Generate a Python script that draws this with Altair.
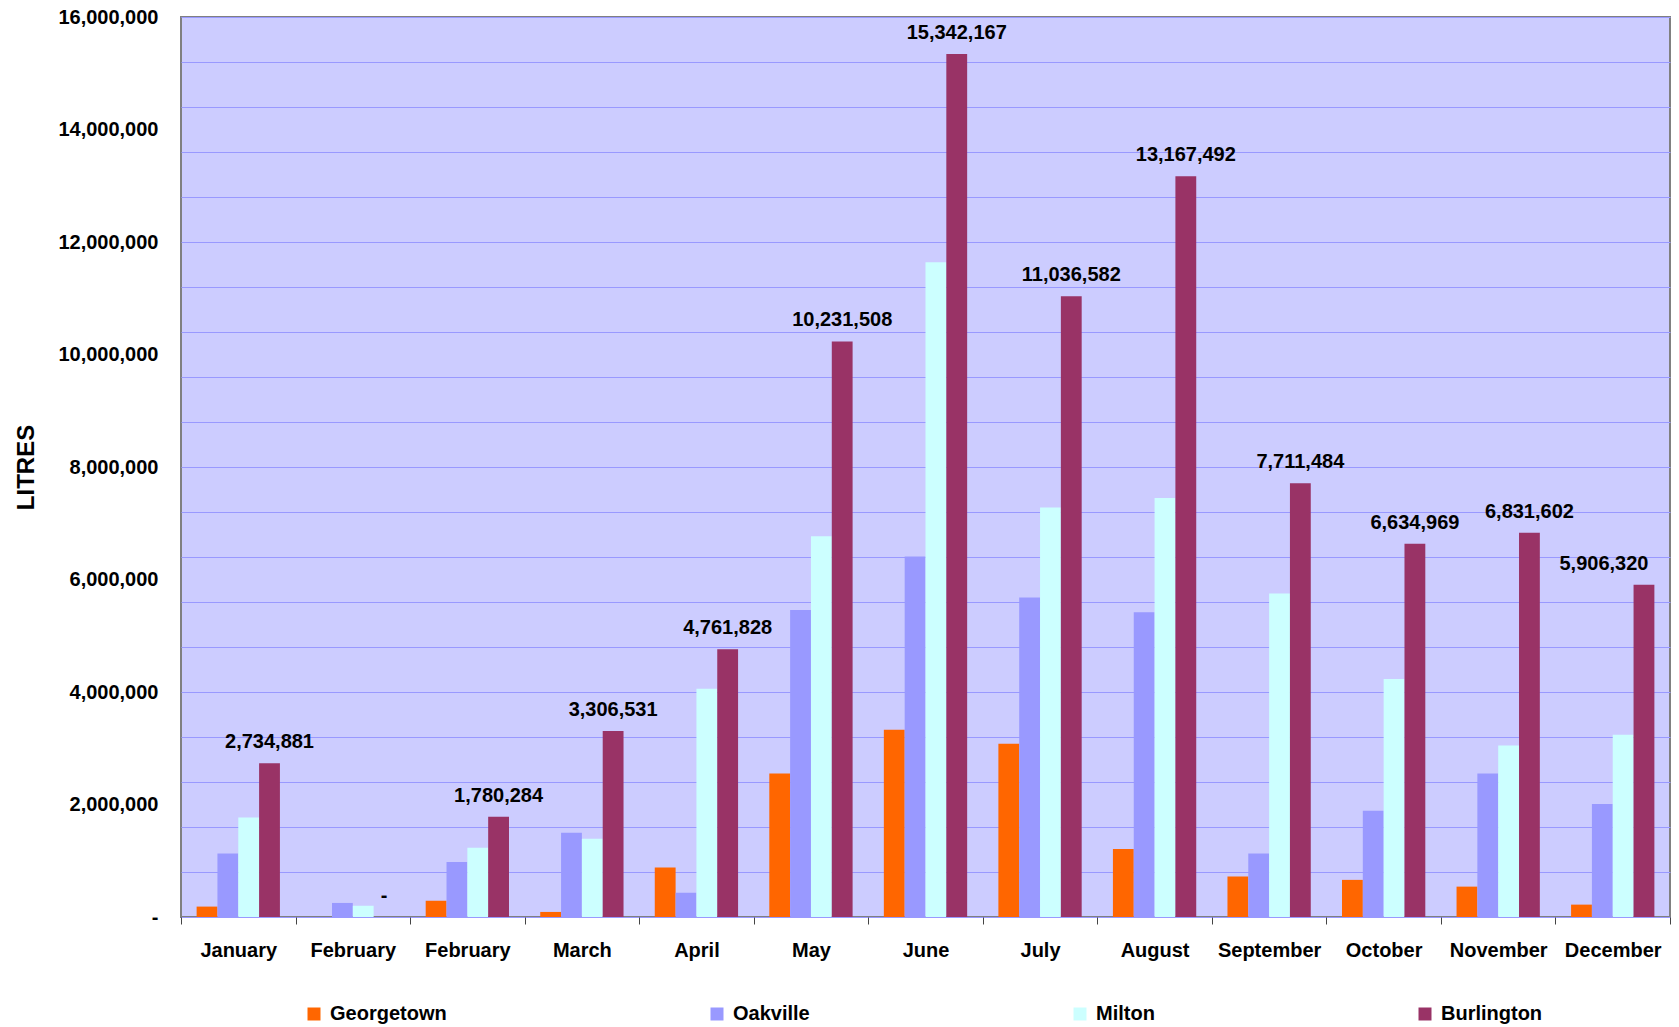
import altair as alt
import pandas as pd

months = ["January", "February", "February", "March", "April", "May", "June",
          "July", "August", "September", "October", "November", "December"]
series = ["Georgetown", "Oakville", "Milton", "Burlington"]
colors = ["#FF6600", "#9999FF", "#CCFFFF", "#993366"]

georgetown = [185000, 0, 290000, 90000, 880000, 2550000, 3330000, 3080000,
              1210000, 720000, 660000, 540000, 220000]
oakville = [1130000, 250000, 980000, 1500000, 430000, 5460000, 6410000, 5680000,
            5420000, 1130000, 1890000, 2550000, 2010000]
milton = [1770000, 200000, 1230000, 1390000, 4060000, 6770000, 11640000, 7280000,
          7450000, 5750000, 4230000, 3050000, 3240000]
burlington = [2734881, 0, 1780284, 3306531, 4761828, 10231508, 15342167, 11036582,
              13167492, 7711484, 6634969, 6831602, 5906320]

grid_ticks = list(range(0, 16000001, 800000))
label_ticks = list(range(0, 16000001, 2000000))
y_ticks = sorted(set(grid_ticks) | set(label_ticks))

rows = []
for name, vals in zip(series, [georgetown, oakville, milton, burlington]):
    for i, v in enumerate(vals):
        rows.append({"idx": i, "series": name, "value": v})
df = pd.DataFrame(rows)

FONT = "Liberation Sans"
label_array = "[" + ",".join("'" + m + "'" for m in months) + "]"

x_enc = alt.X("idx:O", title=None,
              scale=alt.Scale(paddingInner=0, paddingOuter=0),
              axis=alt.Axis(labelExpr=label_array + "[datum.value]",
                            labelAngle=0, labelFontSize=20, labelFontWeight="bold",
                            labelFont=FONT, labelColor="#000000", labelPadding=16,
                            labelOverlap=False,
                            tickBand="extent", tickSize=7, tickColor="#444444",
                            domain=False, grid=False))
y_enc = alt.Y("value:Q",
              scale=alt.Scale(domain=[0, 16000000], nice=False),
              axis=alt.Axis(values=y_ticks, tickCount=200,
                            labelExpr="datum.value % 2000000 == 0 ? (datum.value == 0 ? '-' : format(datum.value, ',')) : ''",
                            labelFontSize=20, labelFontWeight="bold", labelFont=FONT,
                            labelColor="#000000", labelPadding=23, ticks=False,
                            labelOverlap=False,
                            domain=False, grid=True, gridColor="#9999FF", gridWidth=1,
                            gridOpacity={"condition": {"test": "datum.value % 800000 == 0", "value": 1}, "value": 0},
                            title="LITRES", titleFontSize=24, titleFontWeight="bold",
                            titleFont=FONT, titleColor="#000000", titleAngle=270,
                            titleX=-148, titleY=450, titleAlign="center",
                            titleBaseline="alphabetic"))
xoff = alt.XOffset("series:N", sort=series,
                   scale=alt.Scale(domain=series, paddingInner=0, paddingOuter=0.75))

bars = alt.Chart(df).mark_bar(strokeWidth=0).encode(
    x=x_enc,
    y=y_enc,
    xOffset=xoff,
    color=alt.Color("series:N", sort=series,
                    scale=alt.Scale(domain=series, range=colors),
                    legend=alt.Legend(title=None, orient="none", legendX=123, legendY=987,
                                      direction="horizontal", symbolType="square",
                                      symbolSize=169, symbolStrokeWidth=0,
                                      labelFontSize=20, labelFontWeight="bold",
                                      labelFont=FONT, labelColor="#000000",
                                      labelOffset=6, columnPadding=260, padding=0)),
)

lab_base = alt.Chart(df).transform_filter(
    "datum.series == 'Burlington'"
).transform_calculate(
    label="datum.value == 0 ? '-' : format(datum.value, ',')"
)

labels = lab_base.transform_filter("datum.idx != 12").mark_text(
    fontSize=20, fontWeight="bold", font=FONT, color="#000000",
    baseline="alphabetic", dy=-15
).encode(x="idx:O", y="value:Q", xOffset=alt.XOffset("series:N"), text="label:N")

labels_dec = lab_base.transform_filter("datum.idx == 12").mark_text(
    fontSize=20, fontWeight="bold", font=FONT, color="#000000",
    baseline="alphabetic", dy=-15, dx=-40
).encode(x="idx:O", y="value:Q", xOffset=alt.XOffset("series:N"), text="label:N")

chart = alt.layer(bars, labels, labels_dec).properties(
    width=1489, height=900,
    padding={"left": 181, "top": 17, "right": 9, "bottom": 110},
    autosize=alt.AutoSizeParams(type="none"),
    background="#FFFFFF",
).configure_view(
    fill="#CCCCFF", stroke="#808080", strokeWidth=2
)

chart.save("out.html", embed_options={"renderer": "svg", "actions": False})
